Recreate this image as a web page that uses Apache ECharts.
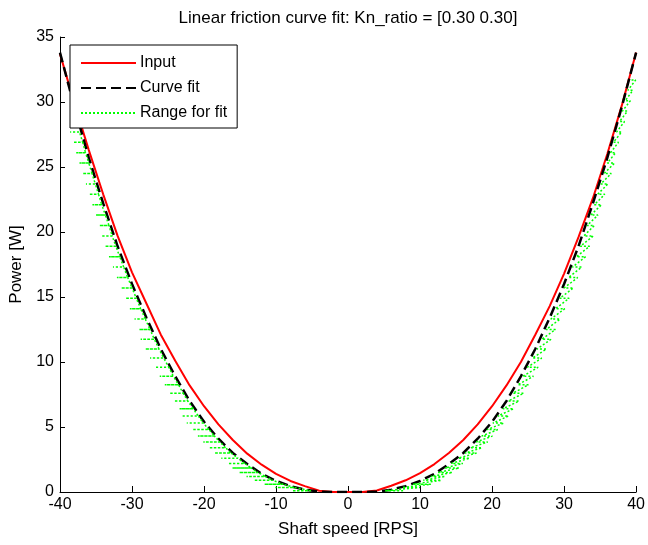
<!DOCTYPE html>
<html>
<head>
<meta charset="utf-8">
<script src="https://cdn.jsdelivr.net/npm/echarts@6/dist/echarts.min.js"></script>
<style>
  html, body { margin: 0; padding: 0; background: #fff; }
  #chart { width: 648px; height: 545px; }
</style>
</head>
<body>
<div id="chart"></div>
<script>
// shaft speed [RPS] for input and fitted curve
const speed = [-40, -38, -36, -34, -32, -30, -28, -26, -24, -22, -20, -18, -16, -14, -12, -10, -8, -6, -4, -2,
    0, 2, 4, 6, 8, 10, 12, 14, 16, 18, 20, 22, 24, 26, 28, 30, 32, 34, 36, 38, 40];
const inputPower = [33.7, 29.9, 26.3, 22.9, 19.7, 16.9, 14.5, 12.1, 10.1, 8.2, 6.6, 5.2, 4.0, 2.95, 2.1, 1.4, 0.85, 0.45, 0.1, 0,
    0, 0, 0.12, 0.48, 0.9, 1.45, 2.15, 3.0, 4.0, 5.2, 6.6, 8.2, 10.0, 12.1, 14.3, 16.8, 19.6, 22.6, 26.0, 29.7, 33.8];
const fitPower = [33.8, 29.6, 25.7, 22.2, 18.9, 16.0, 13.4, 11.0, 8.9, 7.0, 5.4, 4.1, 3.0, 2.15, 1.4, 0.85, 0.45, 0.18, 0.03, 0,
    0, 0, 0.03, 0.18, 0.45, 0.85, 1.4, 2.15, 3.0, 4.1, 5.4, 7.0, 8.9, 11.0, 13.4, 16.0, 18.9, 22.2, 25.7, 29.6, 33.8];

// range for fit: power levels and the speed span at each level
const rangePower = [0.1, 0.35, 0.6, 0.9, 1.2, 1.5, 1.85, 2.2, 2.6, 3.0, 3.4, 3.85, 4.3, 4.8, 5.3, 5.85, 6.4, 7.0, 7.6, 8.25,
    8.9, 9.6, 10.3, 11.0, 11.75, 12.5, 13.3, 14.1, 14.9, 15.7, 16.5, 17.3, 18.1, 18.9, 19.7, 20.5, 21.3, 22.1, 22.9, 23.7,
    24.5, 25.3, 26.1, 26.9, 27.7, 28.5, 29.3, 30.1, 30.9, 31.7];
const rangeLeftInner = [-5.15, -7.5, -9.0, -10.45, -11.5, -12.5, -13.45, -14.35, -15.3, -16.25, -17.0, -17.8, -18.55, -19.3, -20.1,
    -20.8, -21.5, -22.25, -22.9, -23.55, -24.25, -24.9, -25.6, -26.25, -26.9, -27.5, -28.15, -28.8, -29.4, -30.0,
    -30.6, -31.15, -31.7, -32.25, -32.75, -33.2, -33.7, -34.2, -34.65, -35.1, -35.55, -36.0, -36.45, -36.85, -37.3];
const rangeLeftOuter = [-7.75, -10.1, -11.6, -13.05, -14.1, -15.1, -16.05, -16.65, -17.6, -18.55, -19.3, -20.1, -20.85, -21.6, -22.4,
    -23.1, -23.4, -24.15, -24.8, -25.45, -26.15, -26.8, -27.5, -28.15, -28.8, -29.0, -29.65, -30.3, -30.9, -31.5,
    -32.1, -32.65, -33.2, -33.75, -34.25, -34.5, -35.0, -35.5, -35.95, -36.4, -36.85, -37.3, -37.75, -38.15, -38.6];
const rangeRightInner = [5.15, 7.5, 9.0, 10.45, 11.5, 12.5, 13.45, 14.35, 15.3, 16.25, 17.0, 17.8, 18.55, 19.3, 20.1,
    20.8, 21.5, 22.25, 22.9, 23.55, 24.25, 24.9, 25.6, 26.25, 26.9, 27.5, 28.15, 28.8, 29.4, 30.0,
    30.6, 31.15, 31.7, 32.25, 32.75, 33.2, 33.7, 34.2, 34.65, 35.1, 35.55, 36.0, 36.45, 36.85, 37.3,
    37.7, 38.1, 38.5, 38.85, 39.25];
const rangeRightOuter = [7.65, 10.0, 11.5, 12.95, 13.5, 14.5, 15.45, 15.95, 16.9, 17.85, 18.6, 19.4, 20.05, 20.8, 21.6,
    22.3, 23.0, 23.75, 24.4, 25.05, 25.75, 26.4, 26.9, 27.55, 28.2, 28.8, 29.45, 30.1, 30.7, 31.3,
    31.9, 32.45, 33.0, 33.55, 34.05, 34.2, 34.7, 35.2, 35.65, 36.1, 36.55, 37.0, 37.15, 37.55, 38.0,
    38.4, 38.8, 39.2, 39.55, 39.95];

const xTicks = [-40, -30, -20, -10, 0, 10, 20, 30, 40];
const yTicks = [0, 5, 10, 15, 20, 25, 30, 35];

const inputData = [];
const fitData = [];
for (let i = 0; i < speed.length; i++) {
    inputData.push([speed[i], inputPower[i]]);
    fitData.push([speed[i], fitPower[i]]);
}

// left side: each level drawn out and back from the curve
const rangeLeft = [];
for (let i = 0; i < rangeLeftInner.length; i++) {
    rangeLeft.push([rangeLeftInner[i], rangePower[i]]);
    rangeLeft.push([rangeLeftOuter[i], rangePower[i]]);
    rangeLeft.push([rangeLeftInner[i], rangePower[i]]);
}
// right side: zig-zag across the band
const rangeRight = [];
for (let i = 0; i < rangeRightInner.length; i++) {
    rangeRight.push([rangeRightOuter[i], rangePower[i]]);
    rangeRight.push([rangeRightInner[i], rangePower[i]]);
}

const font = 'Liberation Sans, Arial, Helvetica, sans-serif';
const chart = echarts.init(document.getElementById('chart'), null, {renderer: 'canvas'});

const option = {
    animation: false,
    backgroundColor: '#fff',
    title: {
        text: 'Linear friction curve fit: Kn_ratio = [0.30 0.30]',
        left: 343,
        top: 5,
        textAlign: 'center',
        textStyle: {fontFamily: font, fontSize: 17, fontWeight: 'normal', color: '#000'}
    },
    legend: {
        orient: 'vertical',
        left: 70,
        top: 45,
        padding: [10, 10, 7, 10],
        itemWidth: 55,
        itemHeight: 14,
        itemGap: 9,
        backgroundColor: '#fff',
        borderColor: '#000',
        borderWidth: 1,
        borderRadius: 0,
        itemStyle: {opacity: 0},
        textStyle: {fontFamily: font, fontSize: 16, color: '#000', padding: [0, 0, 0, -1]},
        data: ['Input', 'Curve fit', 'Range for fit']
    },
    grid: {left: 60, right: 8, top: 37, bottom: 53, containLabel: false},
    xAxis: {
        type: 'value',
        min: -40,
        max: 40,
        interval: 10,
        name: 'Shaft speed [RPS]',
        nameLocation: 'middle',
        nameGap: 29,
        nameTextStyle: {fontFamily: font, fontSize: 17, color: '#000'},
        axisLine: {onZero: false, lineStyle: {color: '#000', width: 1}},
        axisTick: {inside: true, length: 6, lineStyle: {color: '#000'}},
        axisLabel: {
            fontFamily: font, fontSize: 16, color: '#000', margin: 5,
            customValues: xTicks
        },
        splitLine: {show: false}
    },
    yAxis: {
        type: 'value',
        min: 0,
        max: 35,
        interval: 5,
        name: 'Power [W]',
        nameLocation: 'middle',
        nameGap: 32,
        nameTextStyle: {fontFamily: font, fontSize: 17, color: '#000'},
        axisLine: {show: true, onZero: false, lineStyle: {color: '#000', width: 1}},
        axisTick: {show: true, inside: true, length: 5, lineStyle: {color: '#000'}},
        axisLabel: {
            fontFamily: font, fontSize: 16, color: '#000', margin: 6,
            customValues: yTicks
        },
        splitLine: {show: false}
    },
    series: [
        {
            name: 'Input',
            type: 'line',
            data: inputData,
            symbol: 'none',
            lineStyle: {color: '#ff0000', width: 2},
            itemStyle: {color: '#ff0000'}
        },
        {
            name: 'Curve fit',
            type: 'line',
            data: fitData,
            symbol: 'none',
            lineStyle: {color: '#000000', width: 2.5, type: [10, 5]},
            itemStyle: {color: '#000000'}
        },
        {
            name: 'Range for fit',
            type: 'line',
            data: rangeLeft,
            symbol: 'none',
            lineStyle: {color: '#00ff00', width: 1.5, type: [2, 2]},
            itemStyle: {color: '#00ff00'}
        },
        {
            name: 'Range for fit',
            type: 'line',
            data: rangeRight,
            symbol: 'none',
            lineStyle: {color: '#00ff00', width: 1.5, type: [2, 2]},
            itemStyle: {color: '#00ff00'}
        }
    ]
};

chart.setOption(option);
</script>
</body>
</html>
